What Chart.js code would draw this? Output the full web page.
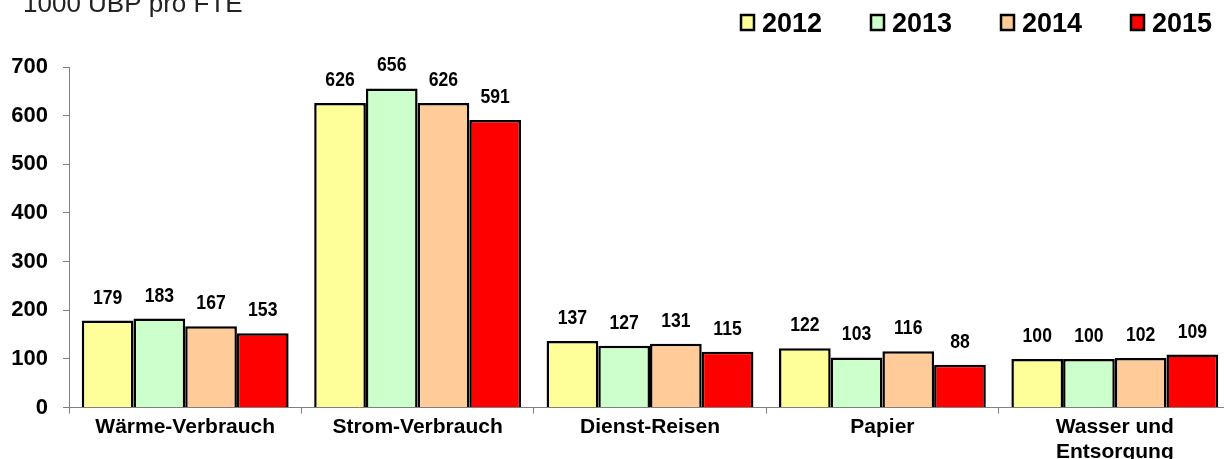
<!DOCTYPE html>
<html>
<head>
<meta charset="utf-8">
<script src="https://cdn.jsdelivr.net/npm/chart.js@4.4.0/dist/chart.umd.min.js"></script>
<style>
html, body { margin: 0; padding: 0; background: #fff; overflow: hidden; }
#wrap { width: 1240px; height: 466px; position: relative; }
</style>
</head>
<body>
<div id="wrap"><canvas id="myChart"></canvas></div>
<script>
const categories = ['Wärme-Verbrauch', 'Strom-Verbrauch', 'Dienst-Reisen', 'Papier', ['Wasser und', 'Entsorgung']];
const years = ['2012', '2013', '2014', '2015'];
const values2012 = [179, 626, 137, 122, 100];
const values2013 = [183, 656, 127, 103, 100];
const values2014 = [167, 626, 131, 116, 102];
const values2015 = [153, 591, 115, 88, 109];
const yTicks = [0, 100, 200, 300, 400, 500, 600, 700];
const unitTitle = '1000 UBP pro FTE';

const fills = ['#FFFF99', '#CCFFCC', '#FFCC99', '#FF0000'];
const series = [values2012, values2013, values2014, values2015];

// value labels above each bar (narrow bold like the original)
const valueLabels = {
    id: 'valueLabels',
    afterDatasetsDraw(chart) {
        const ctx = chart.ctx;
        ctx.save();
        ctx.fillStyle = '#000';
        ctx.font = 'bold 20px "Liberation Sans", Arial, sans-serif';
        ctx.textAlign = 'center';
        ctx.textBaseline = 'alphabetic';
        chart.data.datasets.forEach((ds, i) => {
            chart.getDatasetMeta(i).data.forEach((bar, j) => {
                ctx.save();
                ctx.translate(bar.x, bar.y - 17);
                ctx.scale(0.88, 1);
                ctx.fillText(String(ds.data[j]), 0, 0);
                ctx.restore();
            });
        });
        ctx.restore();
    }
};

// unit title (cut off at top) and legend top right
const titleAndLegend = {
    id: 'titleAndLegend',
    afterDraw(chart) {
        const ctx = chart.ctx;
        ctx.save();
        ctx.fillStyle = '#222';
        ctx.font = '26px "Liberation Sans", Arial, sans-serif';
        ctx.textAlign = 'left';
        ctx.textBaseline = 'alphabetic';
        ctx.fillText(unitTitle, 23, 12);

        ctx.font = 'bold 27px "Liberation Sans", Arial, sans-serif';
        chart.data.datasets.forEach((ds, i) => {
            const x = 741 + i * 130;
            ctx.fillStyle = ds.backgroundColor;
            ctx.fillRect(x, 15, 13, 15);
            ctx.strokeStyle = '#000';
            ctx.lineWidth = 2.5;
            ctx.strokeRect(x, 15, 13, 15);
            ctx.fillStyle = '#000';
            ctx.fillText(ds.label, x + 21, 32);
        });
        ctx.restore();
    }
};

const ctx = document.getElementById('myChart').getContext('2d');

const myChart = new Chart(ctx, {
    type: 'bar',
    data: {
        labels: categories,
        datasets: years.map((y, i) => ({
            label: y,
            data: series[i],
            backgroundColor: fills[i],
            borderColor: '#000',
            borderWidth: 2.5,
            categoryPercentage: 0.89,
            barPercentage: 1
        }))
    },
    options: {
        responsive: true,
        maintainAspectRatio: false,
        animation: false,
        layout: { padding: { left: 0, right: 9, top: 67, bottom: 0 } },
        plugins: {
            legend: { display: false },
            tooltip: { enabled: false }
        },
        scales: {
            x: {
                grid: { offset: true, drawOnChartArea: false, tickLength: 6, color: '#808080' },
                border: { color: '#808080', width: 1 },
                ticks: {
                    color: '#000',
                    font: { family: '"Liberation Sans", Arial, sans-serif', size: 21, weight: 'bold', lineHeight: 1.2 },
                    padding: 1,
                    maxRotation: 0,
                    autoSkip: false
                }
            },
            y: {
                min: 0,
                max: 700,
                afterBuildTicks: axis => { axis.ticks = yTicks.map(v => ({ value: v })); },
                afterFit: axis => { axis.width = 69; },
                grid: { drawOnChartArea: false, tickLength: 6, color: '#808080' },
                border: { color: '#808080', width: 1 },
                ticks: {
                    color: '#000',
                    font: { family: '"Liberation Sans", Arial, sans-serif', size: 22, weight: 'bold' },
                    padding: 15
                }
            }
        }
    },
    plugins: [valueLabels, titleAndLegend]
});
</script>
</body>
</html>
